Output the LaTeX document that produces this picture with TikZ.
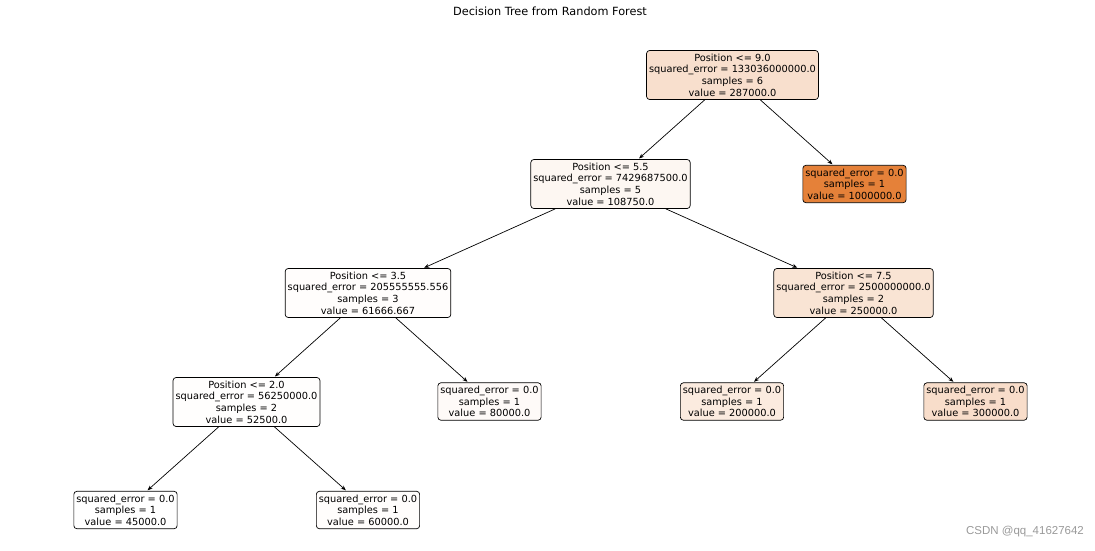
\documentclass[tikz,border=0pt]{standalone}
\usepackage{fontspec}
\setmainfont{DejaVu Sans}
\newfontfamily\markfont{Liberation Sans}
\usetikzlibrary{arrows.meta}

\definecolor{c0}{RGB}{248,223,205}
\definecolor{c1}{RGB}{253,247,242}
\definecolor{c2}{RGB}{229,129,57}
\definecolor{c3}{RGB}{255,253,252}
\definecolor{c4}{RGB}{249,228,212}
\definecolor{c5}{RGB}{255,254,253}
\definecolor{c6}{RGB}{254,250,248}
\definecolor{c7}{RGB}{251,235,223}
\definecolor{c8}{RGB}{248,221,202}
\definecolor{c9}{RGB}{255,255,255}

\begin{document}
\begin{tikzpicture}[x=1pt,y=-1pt,
  every node/.style={font=\fontsize{9.8}{11.6}\selectfont},
  tnode/.style={draw,rounded corners=3pt,align=center,inner xsep=2.5pt,inner ysep=3.3pt,line width=0.7pt},
  edge/.style={-{Stealth[length=5pt,width=4pt]},line width=0.7pt,shorten >=1pt}]
\useasboundingbox (0,0) rectangle (1095,550);
\node[font=\fontsize{11.3}{13}\selectfont] (title) at (550,11) {Decision Tree from Random Forest};
% split nodes
\node[tnode,fill=c0] (A) at (732.5,75) {Position <= 9.0\\squared\_error = 133036000000.0\\samples = 6\\value = 287000.0};
\node[tnode,fill=c1] (B) at (610.5,184) {Position <= 5.5\\squared\_error = 7429687500.0\\samples = 5\\value = 108750.0};
\node[tnode,fill=c3] (C) at (368,293) {Position <= 3.5\\squared\_error = 205555555.556\\samples = 3\\value = 61666.667};
\node[tnode,fill=c4] (D) at (853.5,293) {Position <= 7.5\\squared\_error = 2500000000.0\\samples = 2\\value = 250000.0};
\node[tnode,fill=c5] (E) at (246.5,402) {Position <= 2.0\\squared\_error = 56250000.0\\samples = 2\\value = 52500.0};
% leaves
\node[tnode,fill=c2] (L1) at (854.5,184) {squared\_error = 0.0\\samples = 1\\value = 1000000.0};
\node[tnode,fill=c6] (L2) at (489.5,401.5) {squared\_error = 0.0\\samples = 1\\value = 80000.0};
\node[tnode,fill=c7] (L3) at (732,401.5) {squared\_error = 0.0\\samples = 1\\value = 200000.0};
\node[tnode,fill=c8] (L4) at (975.5,401.5) {squared\_error = 0.0\\samples = 1\\value = 300000.0};
\node[tnode,fill=c9] (L5) at (125.5,510) {squared\_error = 0.0\\samples = 1\\value = 45000.0};
\node[tnode,fill=c3] (L6) at (368,510) {squared\_error = 0.0\\samples = 1\\value = 60000.0};
% edges
\draw[edge] (A) -- (B);
\draw[edge] (A) -- (L1);
\draw[edge] (B) -- (C);
\draw[edge] (B) -- (D);
\draw[edge] (C) -- (E);
\draw[edge] (C) -- (L2);
\draw[edge] (D) -- (L3);
\draw[edge] (D) -- (L4);
\draw[edge] (E) -- (L5);
\draw[edge] (E) -- (L6);
\node[font=\markfont\fontsize{11.5}{13}\selectfont,text=black!40] (mark) at (1025,532) {CSDN @qq\_41627642};
\end{tikzpicture}
\end{document}
